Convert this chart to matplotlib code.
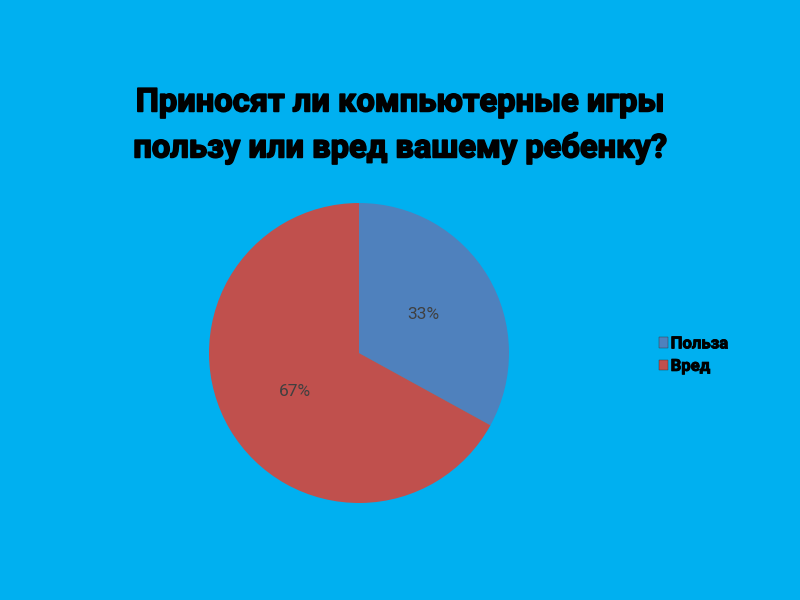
import matplotlib
matplotlib.use("Agg")
import matplotlib.pyplot as plt
from matplotlib.patches import Patch
import matplotlib.patheffects as pe

plt.rcParams['font.family'] = ['Roboto', 'DejaVu Sans']

title = "Приносят ли компьютерные игры\nпользу или вред вашему ребенку?"
labels = ["Польза", "Вред"]
values = [33, 67]
colors = ["#4F81BD", "#C0504D"]
bg = "#00B0F0"

fig = plt.figure(figsize=(8, 6), dpi=100, facecolor=bg)

fig.text(0.5, 0.791, title, ha="center", va="center", fontsize=23.5,
         fontweight="bold", color="black", linespacing=1.5,
         path_effects=[pe.withStroke(linewidth=1.2, foreground="black")])

cx, cy = 359 / 800, 1 - 353 / 600
w, h = 300 / 800, 300 / 600
ax = fig.add_axes([cx - w / 2, cy - h / 2, w, h])
ax.set_facecolor(bg)
wedges, texts, autotexts = ax.pie(values, colors=colors, startangle=90,
                                  counterclock=False, autopct="%1.0f%%",
                                  pctdistance=0.5, radius=1.0,
                                  wedgeprops=dict(edgecolor="none"),
                                  textprops=dict(color="#404040", fontsize=12.5))
ax.set_xlim(-1, 1)
ax.set_ylim(-1, 1)
ax.set_aspect("equal")

handles = [Patch(facecolor=c, edgecolor="#333333", linewidth=0.3) for c in colors]
leg = fig.legend(handles, labels, loc="center left", bbox_to_anchor=(0.805, 0.408),
                 frameon=False, handlelength=0.55, handleheight=0.55,
                 handletextpad=0.15, labelspacing=0.45,
                 prop=dict(weight="bold", size=12))
for t in leg.get_texts():
    t.set_path_effects([pe.withStroke(linewidth=0.6, foreground="black")])

fig.savefig("out.png", dpi=100, facecolor=bg)
